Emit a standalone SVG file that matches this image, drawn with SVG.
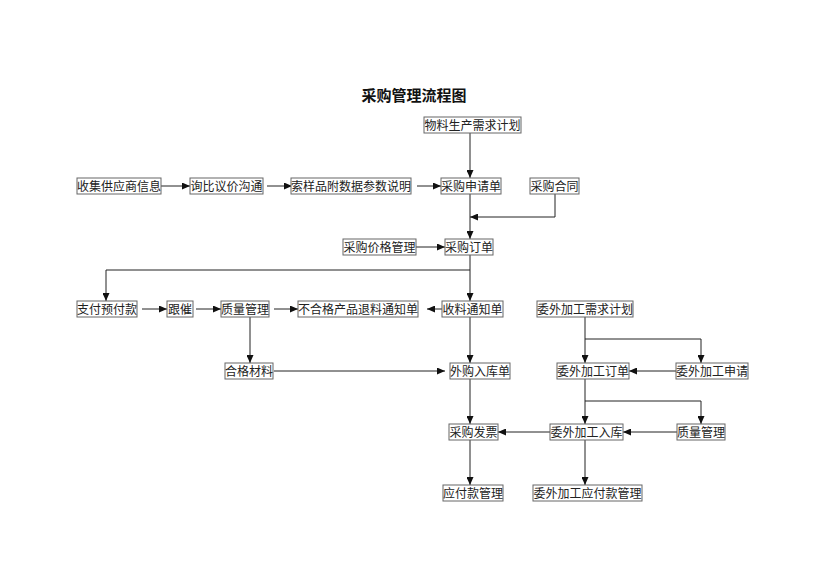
<svg xmlns="http://www.w3.org/2000/svg" width="830" height="587" viewBox="0 0 830 587">
<style>
.n rect{fill:#fff;stroke:#666;stroke-width:1}
.n text{font-family:"Noto Sans CJK SC","Liberation Serif",serif;font-size:12px;fill:#222;text-anchor:middle}
.c path{fill:none;stroke:#222;stroke-width:1}
.t{font-family:"Noto Sans CJK SC","Liberation Sans",sans-serif;font-size:15px;font-weight:bold;fill:#111;text-anchor:middle}
</style>
<defs>
<marker id="a" markerUnits="userSpaceOnUse" markerWidth="8" markerHeight="7" refX="8" refY="3.5" orient="auto">
<path d="M0,0 L8,3.5 L0,7 z" fill="#111"/>
</marker>
</defs>
<rect width="830" height="587" fill="#fff"/>
<text class="t" x="414" y="101">采购管理流程图</text>

<g class="c">
<path d="M470,133 V178" marker-end="url(#a)"/>
<path d="M161,186 H190" marker-end="url(#a)"/>
<path d="M267,186 H292" marker-end="url(#a)"/>
<path d="M417,186 H441" marker-end="url(#a)"/>
<path d="M555,194 V217 H470" marker-end="url(#a)"/>
<path d="M470,194 V239" marker-end="url(#a)"/>
<path d="M416,247 H445" marker-end="url(#a)"/>
<path d="M470,255 V301" marker-end="url(#a)"/>
<path d="M470,270 H106 V301" marker-end="url(#a)"/>
<path d="M142,309 H167" marker-end="url(#a)"/>
<path d="M196,309 H221" marker-end="url(#a)"/>
<path d="M274,309 H298" marker-end="url(#a)"/>
<path d="M442,309 H427" marker-end="url(#a)"/>
<path d="M250,317 V363" marker-end="url(#a)"/>
<path d="M470,317 V363" marker-end="url(#a)"/>
<path d="M274,371 H445" marker-end="url(#a)"/>
<path d="M585,317 V363" marker-end="url(#a)"/>
<path d="M585,339 H701 V363" marker-end="url(#a)"/>
<path d="M676,371 H629" marker-end="url(#a)"/>
<path d="M585,379 V424" marker-end="url(#a)"/>
<path d="M585,401 H701 V424" marker-end="url(#a)"/>
<path d="M677,432 H623" marker-end="url(#a)"/>
<path d="M550,432 H498" marker-end="url(#a)"/>
<path d="M470,379 V424" marker-end="url(#a)"/>
<path d="M470,440 V485" marker-end="url(#a)"/>
<path d="M585,440 V485" marker-end="url(#a)"/>
</g>

<g id="n1" class="n"><rect x="424" y="117" width="97" height="16"/><text x="472.5" y="129.5">物料生产需求计划</text></g>
<g id="n2" class="n"><rect x="77" y="178" width="84" height="16"/><text x="119" y="190.5">收集供应商信息</text></g>
<g id="n3" class="n"><rect x="190" y="178" width="73" height="16"/><text x="226.5" y="190.5">询比议价沟通</text></g>
<g id="n4" class="n"><rect x="291" y="178" width="120" height="16"/><text x="351" y="190.5">索样品附数据参数说明</text></g>
<g id="n5" class="n"><rect x="441" y="178" width="60" height="16"/><text x="471" y="190.5">采购申请单</text></g>
<g id="n6" class="n"><rect x="530" y="178" width="49" height="16"/><text x="554.5" y="190.5">采购合同</text></g>
<g id="n7" class="n"><rect x="343" y="239" width="73" height="16"/><text x="379.5" y="251.5">采购价格管理</text></g>
<g id="n8" class="n"><rect x="445" y="239" width="48" height="16"/><text x="469" y="251.5">采购订单</text></g>
<g id="n9" class="n"><rect x="77" y="301" width="60" height="16"/><text x="107" y="313.5">支付预付款</text></g>
<g id="n10" class="n"><rect x="167" y="301" width="26" height="16"/><text x="180" y="313.5">跟催</text></g>
<g id="n11" class="n"><rect x="221" y="301" width="48" height="16"/><text x="245" y="313.5">质量管理</text></g>
<g id="n12" class="n"><rect x="298" y="301" width="120" height="16"/><text x="358" y="313.5">不合格产品退料通知单</text></g>
<g id="n13" class="n"><rect x="442" y="301" width="61" height="16"/><text x="472.5" y="313.5">收料通知单</text></g>
<g id="n14" class="n"><rect x="537" y="301" width="96" height="16"/><text x="585" y="313.5">委外加工需求计划</text></g>
<g id="n15" class="n"><rect x="225" y="363" width="48" height="16"/><text x="249" y="375.5">合格材料</text></g>
<g id="n16" class="n"><rect x="450" y="363" width="60" height="16"/><text x="480" y="375.5">外购入库单</text></g>
<g id="n17" class="n"><rect x="557" y="363" width="72" height="16"/><text x="593" y="375.5">委外加工订单</text></g>
<g id="n18" class="n"><rect x="676" y="363" width="72" height="16"/><text x="712" y="375.5">委外加工申请</text></g>
<g id="n19" class="n"><rect x="449" y="424" width="49" height="16"/><text x="473.5" y="436.5">采购发票</text></g>
<g id="n20" class="n"><rect x="550" y="424" width="73" height="16"/><text x="586.5" y="436.5">委外加工入库</text></g>
<g id="n21" class="n"><rect x="677" y="424" width="48" height="16"/><text x="701" y="436.5">质量管理</text></g>
<g id="n22" class="n"><rect x="443" y="485" width="60" height="16"/><text x="473" y="497.5">应付款管理</text></g>
<g id="n23" class="n"><rect x="533" y="485" width="109" height="16"/><text x="587.5" y="497.5">委外加工应付款管理</text></g>
</svg>
